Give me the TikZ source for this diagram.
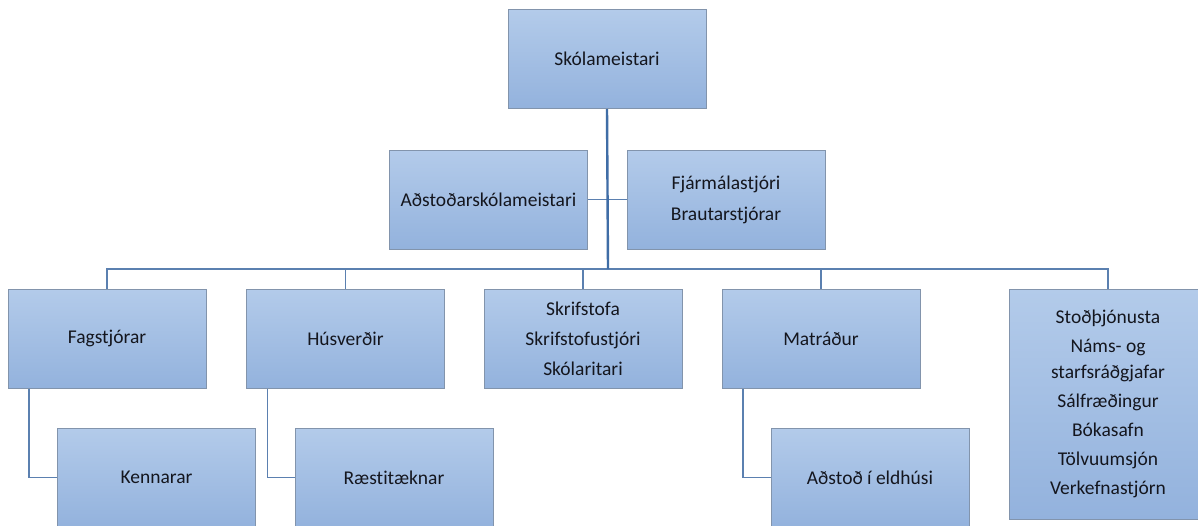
\documentclass[tikz,border=0pt]{standalone}
\usepackage{fontspec}
\setmainfont[Ligatures=NoCommon]{Carlito}
\definecolor{boxtop}{HTML}{B3CBEA}
\definecolor{boxbot}{HTML}{93B2DD}
\definecolor{boxline}{HTML}{8294AC}
\definecolor{conn}{HTML}{5B80B0}
\definecolor{trunkc}{HTML}{3F6DA6}
\definecolor{txt}{HTML}{14161E}
\tikzset{
  orgbox/.style={rectangle, draw=boxline, line width=1pt, top color=boxtop, bottom color=boxbot,
    minimum width=198pt, minimum height=99pt, inner sep=0pt, align=center,
    text=txt, font=\fontsize{19.5}{23}\selectfont},
  link/.style={draw=conn, line width=1.4pt},
  trunk/.style={draw=trunkc, line width=2.4pt}
}
\begin{document}
\begin{tikzpicture}[x=1pt,y=-1pt]
\useasboundingbox (0,0) rectangle (1198,525);
\clip (0,0) rectangle (1198,525);
\fill[white] (0,0) rectangle (1198,525);
% nodes
\node[orgbox] (sk) at (607,59) {Skólameistari};
\node[orgbox] (adst) at (488.5,199.5) {Aðstoðarskólameistari};
\node[orgbox] (fjar) at (726,199.5) {Fjármálastjóri\\[8pt]Brautarstjórar};
\node[orgbox] (fag) at (107,338.5) {Fagstjórar};
\node[orgbox] (hus) at (345.5,338.5) {Húsverðir};
\node[orgbox] (skr) at (583,338.5) {Skrifstofa\\[7pt]Skrifstofustjóri\\[7pt]Skólaritari};
\node[orgbox] (mat) at (821,338.5) {Matráður};
\node[orgbox, minimum height=230pt] (sto) at (1108,404) {Stoðþjónusta\\[6pt]Náms- og\\[3pt]starfsráðgjafar\\[6pt]Sálfræðingur\\[6pt]Bókasafn\\[6pt]Tölvuumsjón\\[6pt]Verkefnastjórn};
\node[orgbox] (ken) at (156.5,477.5) {Kennarar};
\node[orgbox] (rae) at (394,477.5) {Ræstitæknar};
\node[orgbox] (ad) at (870,477.5) {Aðstoð í eldhúsi};
% bus coordinate
\coordinate (bus) at (608,269);
% connectors
\draw[link] (adst.east) -- (fjar.west);
\draw[link] (fag.north) |- (bus) -| (sto.north);
\draw[link] (hus.north) -- (hus.north |- bus);
\draw[link] (skr.north) -- (skr.north |- bus);
\draw[link] (mat.north) -- (mat.north |- bus);
\draw[trunk] (sk.south) -- (bus);
\draw[link] ([xshift=-78pt]fag.south) |- (ken.west);
\draw[link] ([xshift=-78pt]hus.south) |- (rae.west);
\draw[link] ([xshift=-78pt]mat.south) |- (ad.west);
\end{tikzpicture}
\end{document}
